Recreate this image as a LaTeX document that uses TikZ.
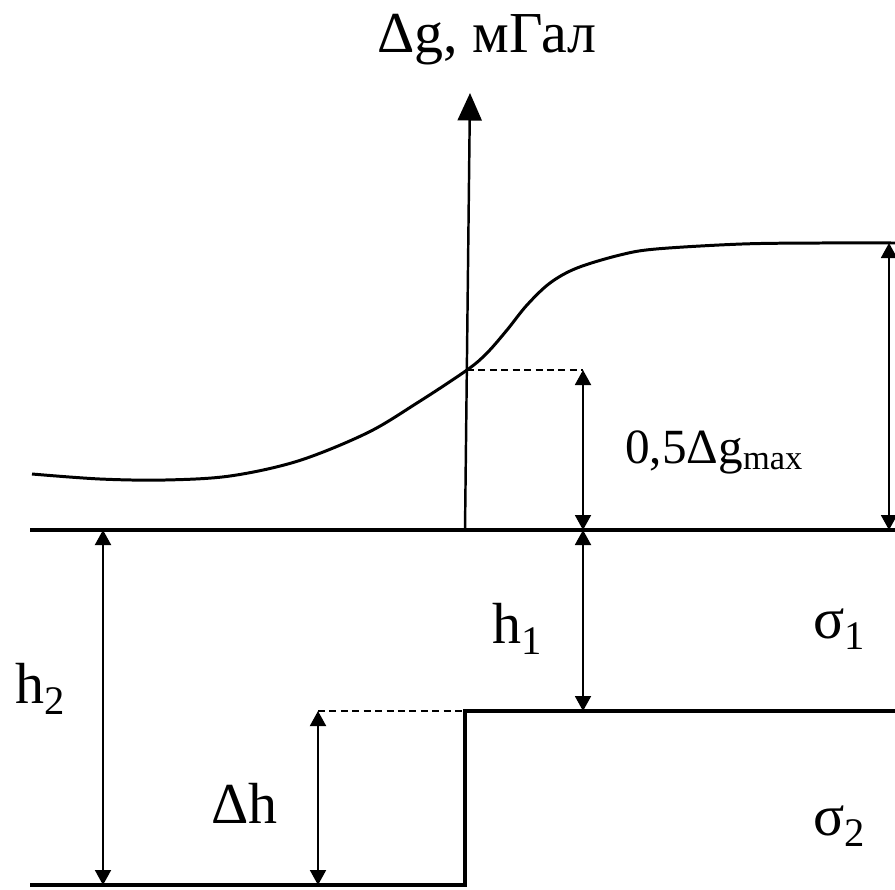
\documentclass[tikz,border=0pt]{standalone}
\usepackage{fontspec}
\IfFontExistsTF{Liberation Serif}
	{\setmainfont{Liberation Serif}}
	{\IfFontExistsTF{LiberationSerif-Regular.ttf}
		{\setmainfont{LiberationSerif-Regular.ttf}}
		{\setmainfont{DejaVu Serif}}}
\usetikzlibrary{arrows.meta, positioning, calc}
\tikzset{
	>={Triangle[length=0.3cm, width=0.32cm]},
	boundary/.style={line width=1.8pt},
	axisline/.style={->, line width=1.4pt, >={Triangle[length=0.55cm, width=0.48cm]}},
	dimline/.style={<->, line width=1.1pt},
	helper/.style={line width=1.1pt, dash pattern=on 4pt off 2.5pt},
	lbl/.style={inner sep=0pt, anchor=base west, font=\rmfamily\fontsize{33}{40}\selectfont},
}

\begin{document}
\begin{tikzpicture}[x=0.02cm, y=-0.02cm]
	\useasboundingbox (0,0) rectangle (895,889);
	% points of the section
	\coordinate (O) at (465,530);
	\coordinate (top) at (470,93);
	\coordinate (L0) at (30,530);
	\coordinate (R0) at (895,530);
	\coordinate (half) at (467,370);
	\coordinate (halfR) at (583,370);
	\coordinate (halfB) at (583,530);
	\coordinate (maxT) at (889,243);
	\coordinate (maxB) at (889,530);
	\coordinate (S1) at (465,711);
	\coordinate (S1R) at (895,711);
	\coordinate (S1B) at (583,711);
	\coordinate (S2) at (465,885);
	\coordinate (S2L) at (30,885);
	\coordinate (H2T) at (103,530);
	\coordinate (H2B) at (103,885);
	\coordinate (DHT) at (318,711);
	\coordinate (DHB) at (318,885);

	% labels
	\node[lbl, anchor=base] (ylab) at (487,52) {Δg, мГал};
	\node[lbl, font=\rmfamily\fontsize{28}{34}\selectfont] (gmax) at (625,463) {0,5Δg\textsubscript{max}};
	\node[lbl] (h1) at (492,643) {h\textsubscript{1}};
	\node[lbl] (h2) at (15,703) {h\textsubscript{2}};
	\node[lbl] (dh) at (211,823) {Δh};
	\node[lbl] (sig1) at (813,638) {σ\textsubscript{1}};
	\node[lbl] (sig2) at (813,835) {σ\textsubscript{2}};

	% anomaly curve
	\draw[line width=1.7pt] plot[smooth, tension=0.55] coordinates {
		(32,474) (100,479) (165,480) (230,476) (298,461) (367,433)
		(417,403) (half) (487,353) (507,330) (527,305) (550,283) (577,268)
		(620,255) (656,249) (742,244) (820,243) (895,243)};

	% axis and boundaries
	\draw[axisline] (O) -- (top);
	\draw[boundary] (L0) -- (R0);
	\draw[boundary] (S1R) -- (S1) -- (S2) -- (S2L);
	\draw[helper] (half) -- (halfR);
	\draw[helper] (DHT) -- (S1);

	% dimensions
	\draw[dimline] (halfR) -- (halfB);
	\draw[dimline] (maxT) -- (maxB);
	\draw[dimline] (halfB) -- (S1B);
	\draw[dimline] (H2T) -- (H2B);
	\draw[dimline] (DHT) -- (DHB);
\end{tikzpicture}
\end{document}
